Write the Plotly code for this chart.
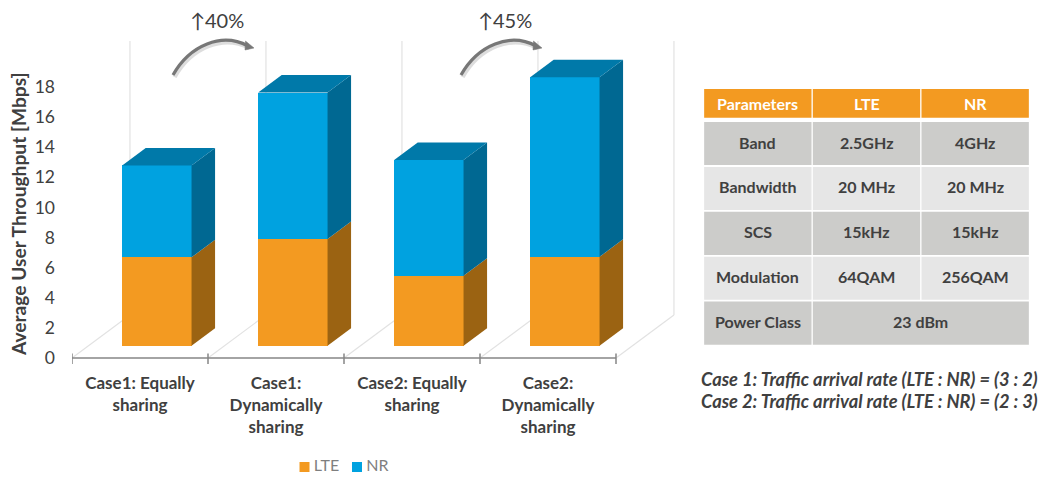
import plotly.graph_objects as go

# ---------- data ----------
categories = ["Case1: Equally<br>sharing", "Case1:<br>Dynamically<br>sharing",
              "Case2: Equally<br>sharing", "Case2:<br>Dynamically<br>sharing"]
lte = [5.87, 7.08, 4.65, 5.9]
nr = [6.1, 9.73, 7.68, 11.93]
y_ticks = [0, 2, 4, 6, 8, 10, 12, 14, 16, 18]
gains = ["↑40%", "↑45%"]
table_header = ["Parameters", "LTE", "NR"]
table_rows = [
    ["Band", "2.5GHz", "4GHz"],
    ["Bandwidth", "20 MHz", "20 MHz"],
    ["SCS", "15kHz", "15kHz"],
    ["Modulation", "64QAM", "256QAM"],
    ["Power Class", "23 dBm"],
]
notes = ["Case 1: Traffic arrival rate (LTE : NR) = (3 : 2)",
         "Case 2: Traffic arrival rate (LTE : NR) = (2 : 3)"]
y_title = "Average User Throughput [Mbps]"

# ---------- style / geometry ----------
W, H = 1045, 477
FONT = "Lato"
TXT = "#404040"
C_LTE, C_NR = "#F39A21", "#00A2E0"
C_LTE_SIDE, C_NR_SIDE, C_NR_TOP = "#9B6312", "#006892", "#0079A9"
GRID = "#E2E2E2"
AX = "#868686"

PLOT_L, PLOT_R, PLOT_T, PLOT_B = 72, 680, 36, 366
Y0_PX, PX_Y = 358, 15.06
PX_X = 136
xr = [0, (PLOT_R - PLOT_L) / PX_X]
yr = [(Y0_PX - PLOT_B) / PX_Y, (Y0_PX - PLOT_T) / PX_Y]

LIFT_X, LIFT_Y = 0.124, 0.815     # front face offset from the axis plane
BAR_W = 0.51
DEPTH_X, DEPTH_Y = 0.173, 1.162   # depth of a bar
WALL_X, WALL_Y = 0.426, 2.855     # depth of the floor
WALL_TOP = 18.2

fig = go.Figure()
xs = [i + 0.5 + LIFT_X for i in range(len(categories))]
lte_base = [LIFT_Y] * len(lte)
nr_base = [LIFT_Y + v for v in lte]


def poly(px, py, color):
    fig.add_trace(go.Scatter(x=px + px[:1], y=py + py[:1], mode="lines", fill="toself",
                             fillcolor=color, line=dict(width=0, color=color),
                             hoverinfo="skip", showlegend=False))


fig.add_trace(go.Bar(name="LTE", x=xs, y=lte, base=lte_base, width=BAR_W,
                     marker=dict(color=C_LTE, line=dict(width=0)), showlegend=False))
fig.add_trace(go.Bar(name="NR", x=xs, y=nr, base=nr_base, width=BAR_W,
                     marker=dict(color=C_NR, line=dict(width=0)), showlegend=False))

for x, b1, v1, b2, v2 in zip(xs, lte_base, lte, nr_base, nr):
    xl, xr_ = x - BAR_W / 2, x + BAR_W / 2
    for b, v, c in ((b1, v1, C_LTE_SIDE), (b2, v2, C_NR_SIDE)):
        poly([xr_, xr_ + DEPTH_X, xr_ + DEPTH_X, xr_],
             [b, b + DEPTH_Y, b + v + DEPTH_Y, b + v], c)
    t = b2 + v2
    poly([xl, xr_, xr_ + DEPTH_X, xl + DEPTH_X], [t, t, t + DEPTH_Y, t + DEPTH_Y], C_NR_TOP)

# axis line and boundary ticks
tx, ty = [], []
for i in range(len(categories) + 1):
    tx += [i, i, None]
    ty += [-0.4, 0.3, None]
fig.add_trace(go.Scatter(x=tx, y=ty, mode="lines", line=dict(color=AX, width=1.5),
                         hoverinfo="skip", showlegend=False))
fig.add_trace(go.Scatter(x=[0, len(categories)], y=[0, 0], mode="lines",
                         line=dict(color=AX, width=1.5), hoverinfo="skip", showlegend=False))

shapes = []
# back wall and floor guides, under the bars
for i in range(len(categories) + 1):
    shapes.append(dict(type="line", xref="x", yref="y", x0=i + WALL_X, x1=i + WALL_X,
                       y0=WALL_Y, y1=WALL_Y + WALL_TOP, line=dict(color=GRID, width=1.2), layer="below"))
    shapes.append(dict(type="line", xref="x", yref="y", x0=i, x1=i + WALL_X,
                       y0=0, y1=WALL_Y, line=dict(color=GRID, width=1.2), layer="below"))

# ---------- table (axes: x2 = column index, y2 = body-row index) ----------
TAB_L, TAB_R = 703.5, 1029.5
ROW_PX = 44.9
TAB_Y0 = 122          # top of first body row, px
GAP_X = 0.006
ROW_H = 0.96
HEAD_TOP, HEAD_BOT = -0.735, -0.095
annots = []


def cell(c0, c1, r0, r1, color, text, font_color=TXT, yshift=1.5):
    shapes.append(dict(type="rect", xref="x2", yref="y2", x0=c0 + GAP_X, x1=c1 - GAP_X,
                       y0=r0, y1=r1, fillcolor=color, line=dict(width=0), layer="below"))
    annots.append(dict(xref="x2", yref="y2", x=(c0 + c1) / 2, y=(r0 + r1) / 2, text=f"<b>{text}</b>",
                       showarrow=False, yshift=yshift, font=dict(family=FONT, size=16, color=font_color)))


for c, t in enumerate(table_header):
    cell(c, c + 1, HEAD_TOP, HEAD_BOT, C_LTE, t, "#FFFFFF", yshift=0)
for r, row in enumerate(table_rows):
    col = "#CCCCCA" if r % 2 == 0 else "#E6E6E6"
    cell(0, 1, r, r + ROW_H, col, row[0])
    if len(row) == 2:
        cell(1, 3, r, r + ROW_H, col, row[1])
    else:
        for c, t in enumerate(row[1:], start=1):
            cell(c, c + 1, r, r + ROW_H, col, t)

# ---------- overlay (x3/y3 = page pixels) ----------
for dx, label in zip((0, 288), gains):
    curve = f"M {173+dx},75 C {190+dx},45 {222+dx},32 {248+dx},46"
    shapes.append(dict(type="path", xref="x3", yref="y3", path=f"M {174.5+dx},77 C {191.5+dx},47 {223.5+dx},34 {249.5+dx},48",
                       line=dict(color="rgba(120,120,120,0.25)", width=4.5)))
    shapes.append(dict(type="path", xref="x3", yref="y3", path=curve, line=dict(color="#777777", width=3.2)))
    shapes.append(dict(type="path", xref="x3", yref="y3",
                       path=f"M {254+dx},48 L {245.5+dx},41 L {245+dx},50 Z",
                       fillcolor="#777777", line=dict(color="#777777", width=0.5)))
    annots.append(dict(xref="x3", yref="y3", x=217 + dx, y=19.5, text=label, showarrow=False,
                       font=dict(family=FONT, size=20, color=TXT)))

annots.append(dict(xref="x3", yref="y3", x=18, y=214, text=f"<b>{y_title}</b>", textangle=-90,
                   showarrow=False, font=dict(family=FONT, size=19.2, color=TXT)))
for y, n in zip((379, 401), notes):
    annots.append(dict(xref="x3", yref="y3", x=869.5, y=y, text=f"<b><i>{n}</i></b>", showarrow=False,
                       font=dict(family=FONT, size=18.3, color=TXT)))

for x, name, c in zip((304.5, 357), ("\u2009LTE", "\u2009NR"), (C_LTE, C_NR)):
    fig.add_trace(go.Scatter(x=[x], y=[467], mode="markers+text", xaxis="x3", yaxis="y3",
                             marker=dict(symbol="square", size=10, color=c),
                             text=[name], textposition="middle right",
                             textfont=dict(family=FONT, size=16, color="#7F7F7F"),
                             hoverinfo="skip", showlegend=False))

fig.update_layout(
    width=W, height=H, margin=dict(l=0, r=0, t=0, b=0, autoexpand=False),
    paper_bgcolor="white", plot_bgcolor="rgba(0,0,0,0)",
    barmode="overlay", bargap=0, showlegend=False,
    font=dict(family=FONT, color=TXT),
    xaxis=dict(domain=[PLOT_L / W, PLOT_R / W], range=xr, tickmode="array", automargin=False,
               tickvals=[i + 0.5 for i in range(len(categories))], ticktext=[f"<b>{c}</b>" for c in categories],
               showgrid=False, zeroline=False, showline=False, ticks="",
               ticklabelstandoff=5, tickfont=dict(family=FONT, size=17, color=TXT), anchor="y"),
    yaxis=dict(domain=[1 - PLOT_B / H, 1 - PLOT_T / H], range=yr, tickmode="array", tickvals=y_ticks, automargin=False,
               showgrid=False, zeroline=False, showline=False, ticks="",
               ticklabelstandoff=16, tickfont=dict(family=FONT, size=17.5, color=TXT), anchor="x"),
    xaxis2=dict(domain=[TAB_L / W, TAB_R / W], range=[0, 3], visible=False, anchor="y2", fixedrange=True, automargin=False),
    yaxis2=dict(domain=[1 - (TAB_Y0 + 5 * ROW_PX) / H, 1 - (TAB_Y0 - 40) / H], automargin=False,
                range=[5, -40 / ROW_PX], visible=False, anchor="x2", fixedrange=True),
    xaxis3=dict(domain=[0, 1], range=[0, W], visible=False, anchor="y3", fixedrange=True, automargin=False),
    yaxis3=dict(domain=[0, 1], range=[H, 0], visible=False, anchor="x3", fixedrange=True, automargin=False),
    shapes=shapes, annotations=annots,
)

fig.write_html("out.html", config=dict(displayModeBar=False),
               post_script="document.body.style.margin='0';document.body.style.overflow='hidden';")
